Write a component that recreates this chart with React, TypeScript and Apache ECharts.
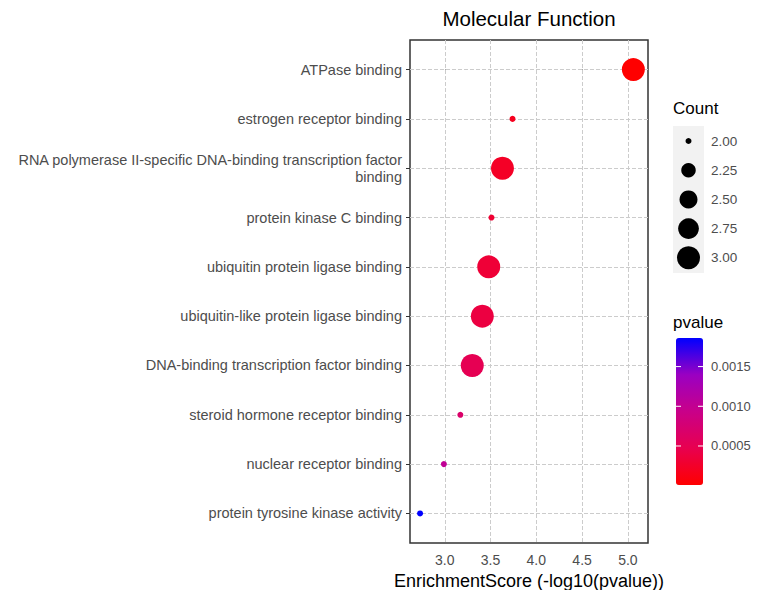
import React, { useEffect, useRef } from "react";
import * as echarts from "echarts";

const categories = [
  "ATPase binding",
  "estrogen receptor binding",
  "RNA polymerase II-specific DNA-binding transcription factor binding",
  "protein kinase C binding",
  "ubiquitin protein ligase binding",
  "ubiquitin-like protein ligase binding",
  "DNA-binding transcription factor binding",
  "steroid hormone receptor binding",
  "nuclear receptor binding",
  "protein tyrosine kinase activity",
];
const enrichmentScores = [5.06, 3.74, 3.63, 3.51, 3.48, 3.41, 3.3, 3.17, 2.99, 2.73];
const pvalues = [0.0000087, 0.000182, 0.000234, 0.000309, 0.000331, 0.000389, 0.000501, 0.000676, 0.00102, 0.00186];
const counts = [3, 2, 3, 2, 3, 3, 3, 2, 2, 2];
const xTicks = [3.0, 3.5, 4.0, 4.5, 5.0];
const countLegendValues = [2.0, 2.25, 2.5, 2.75, 3.0];
const pvalueTicks = [0.0015, 0.001, 0.0005];

const FONT = "'Liberation Sans', Arial, Helvetica, sans-serif";
const GREY30 = "#4d4d4d";
const PANEL = { left: 410, top: 40, right: 648, bottom: 543 };
const X_MIN = 2.62;
const X_MAX = 5.22;
const CB = { left: 676, top: 338, width: 27, height: 147 };
const gradient = ["#FF0000", "#E8004F", "#C90089", "#9A00C2", "#0000FF"];

const countMin = Math.min(...counts);
const countMax = Math.max(...counts);
function sizeOf(c: number) {
  const t = (c - countMin) / (countMax - countMin);
  return 6 + 17 * Math.sqrt(Math.max(0, t));
}

function wrapLabel(name: string) {
  if (name.length > 55) {
    const i = name.lastIndexOf(" ");
    return name.slice(0, i) + "\n" + name.slice(i + 1);
  }
  return name;
}

export default function App() {
  const ref = useRef<HTMLDivElement>(null);
  useEffect(() => {
    if (!ref.current) return;
    const chart = echarts.init(ref.current, null, { renderer: "svg" });
    const pMin = Math.min(...pvalues);
    const pMax = Math.max(...pvalues);
    const pToY = (v: number) => CB.top + ((pMax - v) / (pMax - pMin)) * CB.height;

    const graphics: any[] = [
      {
        type: "text",
        x: (PANEL.left + PANEL.right) / 2,
        y: 18,
        style: { text: "Molecular Function", font: `20.5px ${FONT}`, fill: "#000", align: "center", verticalAlign: "middle" },
      },
      {
        type: "text",
        x: 673,
        y: 108,
        style: { text: "Count", font: `17px ${FONT}`, fill: "#000", align: "left", verticalAlign: "middle" },
      },
      {
        type: "rect",
        shape: { x: 673, y: 126, width: 31, height: 147 },
        style: { fill: "#f2f2f2" },
        z: 1,
      },
      {
        type: "text",
        x: 673,
        y: 322,
        style: { text: "pvalue", font: `17px ${FONT}`, fill: "#000", align: "left", verticalAlign: "middle" },
      },
    ];
    countLegendValues.forEach((c, i) => {
      const cy = 141 + i * 29.2;
      graphics.push({
        type: "circle",
        shape: { cx: 688.5, cy, r: sizeOf(c) / 2 },
        style: { fill: "#000" },
        z: 2,
      });
      graphics.push({
        type: "text",
        x: 711,
        y: cy,
        style: { text: c.toFixed(2), font: `13.5px ${FONT}`, fill: GREY30, align: "left", verticalAlign: "middle" },
        z: 2,
      });
    });
    pvalueTicks.forEach((v) => {
      const y = pToY(v);
      graphics.push({
        type: "text",
        x: 711,
        y,
        style: { text: v.toFixed(4), font: `13px ${FONT}`, fill: GREY30, align: "left", verticalAlign: "middle" },
      });
      graphics.push({
        type: "line",
        shape: { x1: CB.left, y1: y, x2: CB.left + 5, y2: y },
        style: { stroke: "#fff", lineWidth: 1 },
        z: 10,
      });
      graphics.push({
        type: "line",
        shape: { x1: CB.left + CB.width - 5, y1: y, x2: CB.left + CB.width, y2: y },
        style: { stroke: "#fff", lineWidth: 1 },
        z: 10,
      });
    });

    const gridLine = { type: "dashed", color: "#cccccc", width: 1 };

    chart.setOption({
      animation: false,
      backgroundColor: "#fff",
      textStyle: { fontFamily: FONT },
      grid: {
        left: PANEL.left,
        top: PANEL.top,
        width: PANEL.right - PANEL.left,
        height: PANEL.bottom - PANEL.top,
        show: true,
        borderColor: "#333",
        borderWidth: 1.5,
        backgroundColor: "#fff",
        containLabel: false,
        outerBoundsMode: "none",
      },
      xAxis: {
        type: "value",
        min: X_MIN,
        max: X_MAX,
        name: "EnrichmentScore (-log10(pvalue))",
        nameLocation: "middle",
        nameGap: 27,
        nameTextStyle: { fontSize: 18, color: "#000", fontFamily: FONT },
        axisLine: { show: false },
        axisTick: { show: true, length: 4, lineStyle: { color: "#333" }, customValues: xTicks },
        axisLabel: {
          customValues: xTicks,
          fontSize: 14,
          color: GREY30,
          margin: 10,
          formatter: (v: number) => v.toFixed(1),
        },
        splitLine: { show: false },
      },
      yAxis: {
        type: "value",
        inverse: true,
        min: -0.6,
        max: categories.length - 1 + 0.6,
        axisLine: { show: false },
        axisTick: { show: true, length: 4, lineStyle: { color: "#333" }, customValues: categories.map((_, i) => i) },
        axisLabel: {
          customValues: categories.map((_, i) => i),
          fontSize: 14.5,
          color: GREY30,
          margin: 8,
          lineHeight: 17,
          align: "right",
          formatter: (v: number) => wrapLabel(categories[Math.round(v)] ?? ""),
        },
        splitLine: { show: false },
      },
      visualMap: {
        type: "continuous",
        seriesIndex: 1,
        dimension: 2,
        min: pMin,
        max: pMax,
        calculable: false,
        realtime: false,
        left: CB.left,
        top: CB.top,
        padding: 0,
        itemWidth: CB.width,
        itemHeight: CB.height,
        text: null,
        showLabel: false,
        inRange: { color: gradient },
      },
      graphic: graphics,
      series: [
        {
          type: "scatter",
          data: [],
          z: 1,
          silent: true,
          markLine: {
            z: 1,
            silent: true,
            symbol: "none",
            label: { show: false },
            lineStyle: gridLine,
            emphasis: { disabled: true },
            data: [
              ...xTicks.map((v) => ({ xAxis: v })),
              ...categories.map((_, i) => ({ yAxis: i })),
            ],
          },
        },
        {
          type: "scatter",
          z: 3,
          data: categories.map((c, i) => [enrichmentScores[i], i, pvalues[i], counts[i], c]),
          symbolSize: (val: any) => sizeOf(val[3]),
          itemStyle: { opacity: 1 },
        },
      ],
    });
    return () => chart.dispose();
  }, []);
  return <div ref={ref} style={{ position: "absolute", left: 0, top: 0, width: 757, height: 590 }} />;
}
